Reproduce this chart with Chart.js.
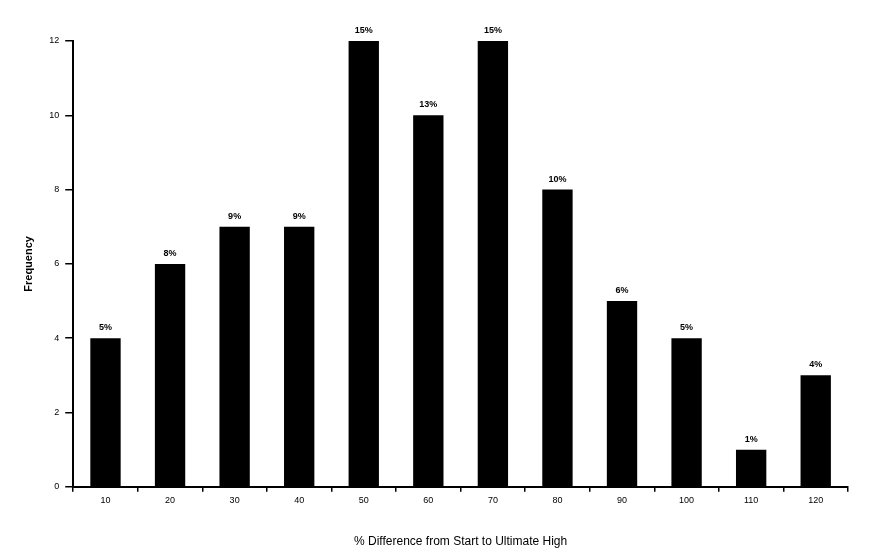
<!DOCTYPE html>
<html>
<head>
<meta charset="utf-8">
<title>Ultimate High</title>
<script src="https://cdn.jsdelivr.net/npm/chart.js@4"></script>
<style>
    body{margin:0;background:#fff;}
    #wrap{width:873px;height:555px;}
</style>
</head>
<body>
<div id="wrap"><canvas id="high_chart" width="873" height="555"></canvas></div>
<script>
// categories on the x axis (bins of % difference)
let binLabels = ["10","20","30","40","50","60","70","80","90","100","110","120"];
// number of cases per bin
let counts = [4, 6, 7, 7, 12, 10, 12, 8, 5, 4, 1, 3];
// share of all cases printed above each bar
let shareLabels = ["5%","8%","9%","9%","15%","13%","15%","10%","6%","5%","1%","4%"];
let yTicks = [0, 2, 4, 6, 8, 10, 12];

const barLabels = {
    id: "barLabels",
    afterDatasetsDraw(chart){
        let ctx = chart.ctx;
        let meta = chart.getDatasetMeta(0);
        ctx.save();
        ctx.fillStyle = "#000";
        ctx.font = "bold 9px 'Liberation Sans', Arial, sans-serif";
        ctx.textAlign = "center";
        ctx.textBaseline = "bottom";
        for(let i=0; i<meta.data.length; i++){
            let bar = meta.data[i];
            ctx.fillText(shareLabels[i], bar.x, bar.y - 6);
        }
        ctx.restore();
    }
};

let highChart = new Chart(document.getElementById("high_chart"),{
    type:"bar",
    data:{
        labels:binLabels,
        datasets:[
            {
                label:"Count",
                data:counts,
                backgroundColor:"#000",
                borderWidth:0,
                barPercentage:0.47,
                categoryPercentage:1.0
            }
        ]
    },
    options:{
        responsive:false,
        animation:false,
        layout:{padding:{left:18, right:25, top:41, bottom:2}},
        plugins:{
            legend:{display:false},
            tooltip:{enabled:false}
        },
        scales:{
            x:{
                grid:{display:true, drawOnChartArea:false, color:"#000", tickLength:5, lineWidth:1.5},
                border:{display:true, color:"#000", width:2},
                ticks:{color:"#000", font:{family:"'Liberation Sans', Arial, sans-serif", size:9}, padding:3, maxRotation:0},
                title:{display:true, text:"% Difference from Start to Ultimate High", color:"#000",
                       font:{family:"'Liberation Sans', Arial, sans-serif", size:12}, padding:{top:26}}
            },
            y:{
                min:0,
                max:12,
                afterBuildTicks(axis){ axis.ticks = yTicks.map(v => ({value:v})); },
                grid:{display:true, drawOnChartArea:false, color:"#000", tickLength:8, lineWidth:1.5},
                border:{display:true, color:"#000", width:2},
                ticks:{color:"#000", font:{family:"'Liberation Sans', Arial, sans-serif", size:9}, padding:6},
                title:{display:true, text:"Frequency", color:"#000",
                       font:{family:"'Liberation Sans', Arial, sans-serif", size:11, weight:"bold"}, padding:{bottom:8}}
            }
        }
    },
    plugins:[barLabels]
});
</script>
</body>
</html>
